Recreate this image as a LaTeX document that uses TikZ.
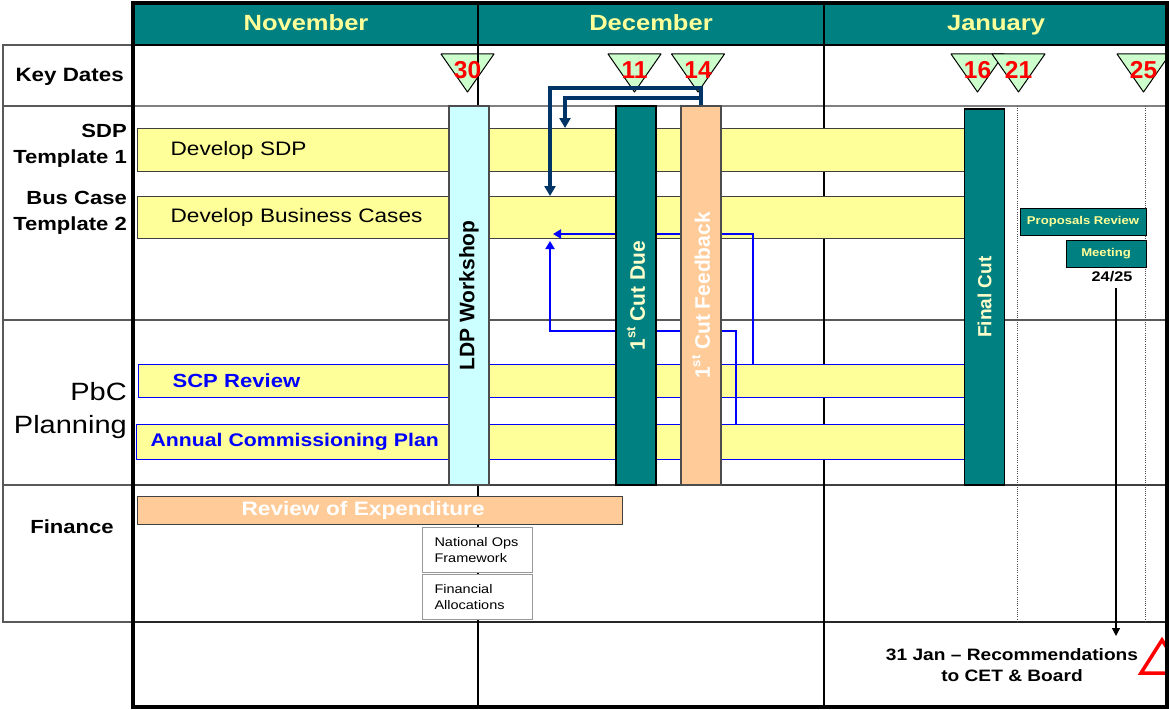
\documentclass[tikz,border=0pt]{standalone}
\usepackage{fontspec}
\setmainfont{Liberation Sans}[FakeStretch=1.16]
\newfontfamily\uprightfont{Liberation Sans}
\usetikzlibrary{arrows.meta}

\definecolor{hdrteal}{HTML}{008080}
\definecolor{paleyel}{HTML}{FFFF99}
\definecolor{peach}{HTML}{FFCC99}
\definecolor{icecyan}{HTML}{CCFFFF}
\definecolor{mint}{HTML}{CCFFCC}
\definecolor{navyline}{HTML}{003366}
\definecolor{brightblue}{HTML}{0000FF}
\definecolor{cream}{HTML}{FFFFCC}

\tikzset{
  rowline/.style={line width=1.4pt},
  monthline/.style={draw=black, line width=1.5pt},
  dotline/.style={draw=black!70, line width=1pt, dash pattern=on 1pt off 1.2pt},
  month/.style={font=\bfseries\fontsize{22}{24}\selectfont, text=paleyel, anchor=base},
  lbl/.style={font=\bfseries\fontsize{19}{26}\selectfont, align=right, anchor=east, inner sep=0pt},
  keytri/.style={draw=black, fill=mint, line width=1pt, line join=round},
  datenum/.style={font=\uprightfont\bfseries\fontsize{24.5}{24}\selectfont, text=red, inner sep=0pt},
  ybar/.style={fill=paleyel, draw=black!75, line width=1.2pt, anchor=north west,
    inner ysep=0pt, align=left, font=\fontsize{19.5}{22}\selectfont},
  bbar/.style={ybar, draw=brightblue, text=brightblue, font=\bfseries\fontsize{19}{22}\selectfont},
  vbar/.style={rotate=90, minimum height=40pt, inner sep=0pt, line width=1.2pt,
    font=\uprightfont\bfseries\fontsize{21}{24}\selectfont},
  tealbox/.style={fill=hdrteal, draw=black, line width=1pt, inner sep=0pt,
    text=paleyel, font=\bfseries\fontsize{11.3}{13}\selectfont},
  graybox/.style={draw=black!40, line width=1pt, fill=white, anchor=north west,
    inner ysep=0pt, inner xsep=12pt, text width=86pt, align=left,
    minimum height=45pt, font=\fontsize{12.5}{16}\selectfont},
  navyarr/.style={draw=navyline, line width=3.2pt, -{Triangle[length=10pt,width=11pt]}},
  bluearr/.style={draw=brightblue, line width=2pt, -{Triangle[length=8pt,width=9pt]}},
  blackarr/.style={draw=black, line width=1.3pt, -{Triangle[length=8pt,width=8pt]}}
}

\begin{document}
\begin{tikzpicture}[x=1pt, y=-1pt]
\useasboundingbox (0,0) rectangle (1169,709);
\clip (0,0) rectangle (1169,709);
\fill[white] (0,0) rectangle (1169,709);

% header band
\fill[hdrteal] (133,3) rectangle (1167,45);
\node[month] (nov) at (306,30.5) {November};
\node[month] (dec) at (651,30.5) {December};
\node[month] (jan) at (996,30.5) {January};

% key date markers
\foreach \x in {467.5, 634.5, 698, 977.5, 1018.5, 1143.5}
  \draw[keytri] (\x-26.5,54) -- (\x+26.5,54) -- (\x,92) -- cycle;

% row and month lines
\draw[rowline, draw=black!50] (133,106) -- (1167,106);
\draw[rowline, draw=black!65] (133,320) -- (1167,320);
\draw[rowline, draw=black!75] (133,485) -- (1167,485);
\draw[rowline, draw=black!85] (133,622) -- (1167,622);
\draw[monthline] (478,3) -- (478,707);
\draw[monthline] (824,3) -- (824,707);
\draw[dotline] (1017,106) -- (1017,622);
\draw[dotline] (1145,106) -- (1145,622);

% label column
\draw[draw=black!65, line width=1.2pt] (3,45) rectangle (133,622);
\draw[draw=black!65, line width=1.2pt] (3,106) -- (133,106);
\draw[draw=black!65, line width=1.2pt] (3,320) -- (133,320);
\draw[draw=black!65, line width=1.2pt] (3,485) -- (133,485);
\node[lbl, font=\bfseries\fontsize{19.3}{26}\selectfont] (kd) at (124,77) {Key Dates};
\node[lbl] (sdpl) at (127,146) {SDP\\Template 1};
\node[lbl] (bcl) at (127,213) {Bus Case\\Template 2};
\node[lbl, font=\fontsize{25}{33}\selectfont] (pbcl) at (127,411) {PbC\\Planning};
\node[lbl, anchor=center] (finl) at (72,527) {Finance};

% date numbers
\foreach \x/\n in {467.5/30, 634.5/11, 698/14, 977.5/16, 1018.5/21, 1143.5/25}
  \node[datenum] (d\n) at (\x,70) {\n};

% horizontal activity bars
\node[ybar, minimum height=43pt, inner xsep=33pt, text width=763pt] (sdp) at (137,128) {Develop SDP};
\node[ybar, minimum height=42pt, inner xsep=33pt, text width=763pt] (bc) at (137,196) {Develop Business Cases};
\node[bbar, minimum height=33pt, inner xsep=34pt, text width=759pt] (scp) at (138,364) {SCP Review};
\node[bbar, minimum height=35pt, inner xsep=14pt, text width=801pt,
  font=\bfseries\fontsize{18.3}{22}\selectfont] (acp) at (136,424) {Annual Commissioning Plan};
\node[ybar, fill=peach, minimum height=28pt, inner xsep=104pt, text width=277pt,
  text=white, font=\bfseries\fontsize{19.5}{22}\selectfont] (rev) at (137,496) {Review of Expenditure};
\node[graybox] (natops) at (422,527) {National Ops\\Framework};
\node[graybox] (finalloc) at (422,574) {Financial\\Allocations};

% returns from the planning bars
\coordinate (scpout) at (753,364);
\coordinate (acpout) at (736,424);
\draw[bluearr] (scpout) |- (553,234);
\draw[bluearr] (acpout) |- (550,331) -- (550,241);

% vertical milestone bars
\node[vbar, fill=icecyan, draw=black!70, minimum width=379pt] (ldp) at (469,295.5) {LDP Workshop};
\node[vbar, fill=hdrteal, draw=black, text=cream, minimum width=379pt] (due) at (636,295.5)
  {1\raisebox{0.45em}{\fontsize{13}{13}\selectfont st} Cut Due};
\node[vbar, fill=peach, draw=black!70, text=white, minimum width=379pt] (fb) at (701,295.5)
  {1\raisebox{0.45em}{\fontsize{13}{13}\selectfont st} Cut Feedback};
\node[vbar, fill=hdrteal, draw=black, text=cream, minimum width=376pt,
  font=\uprightfont\bfseries\fontsize{19}{24}\selectfont] (fin) at (984.5,297) {Final Cut};

% feedback routed back to the templates
\coordinate (sdpin) at (565,128);
\coordinate (bcin) at (550,196);
\draw[navyarr] (fb.east) |- (550,88) -- (bcin);
\draw[navyarr] (fb.east) |- (565,98) -- (sdpin);

% January review
\node[tealbox, minimum width=126pt, minimum height=27pt] (prop) at (1083,221.5) {Proposals Review};
\node[tealbox, minimum width=80pt, minimum height=27pt] (meet) at (1106,253.5) {Meeting};
\node[font=\bfseries\fontsize{14}{16}\selectfont, inner sep=1pt] (meetdate) at (1112,277) {24/25};
\coordinate (recv) at (1116,636);
\draw[blackarr] ([xshift=4pt, yshift=-5pt]meetdate.south) -- (recv);

\node[font=\bfseries\fontsize{16.5}{21}\selectfont, align=center] (recs) at (1012,665)
  {31 Jan -- Recommendations\\to CET \& Board};
\draw[draw=red, line width=3.5pt, fill=white, line join=miter] (1141,673) -- (1162,640) -- (1183,673) -- cycle;

% frame
\draw[black, line width=2.5pt] (133,45) -- (1167,45);
\draw[black, line width=3.2pt] (133,3) rectangle (1167,707);
\end{tikzpicture}
\end{document}
